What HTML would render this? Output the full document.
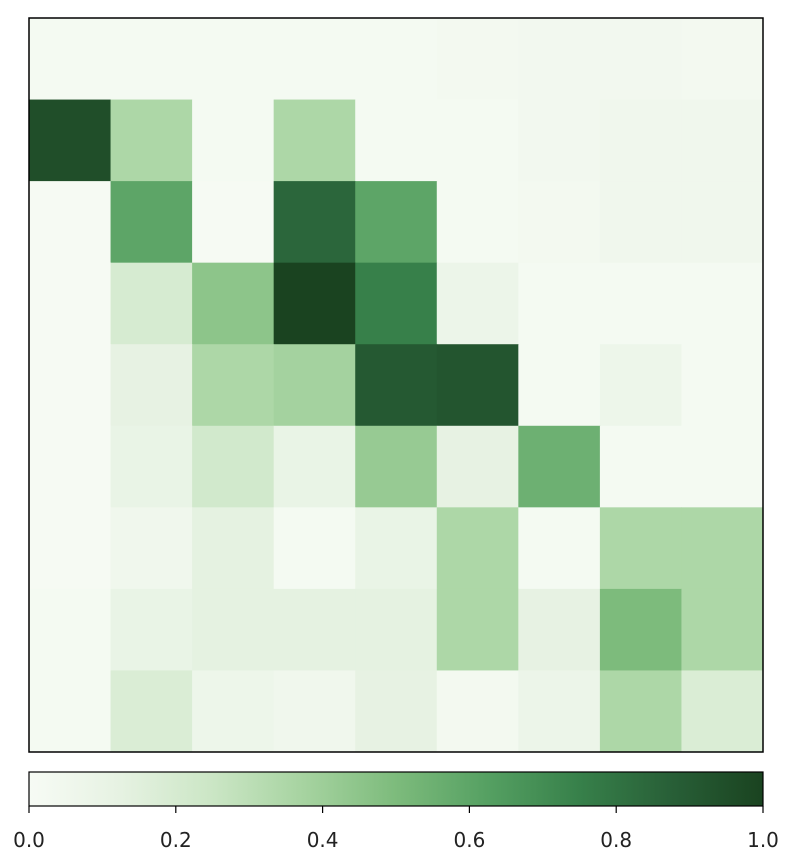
<!DOCTYPE html>
<html><head><meta charset="utf-8"><style>
body{margin:0;background:#fff;}
svg{display:block;font-family:"DejaVu Sans","Liberation Sans",sans-serif;}
</style></head><body>
<svg id="chart" width="800" height="868" xmlns="http://www.w3.org/2000/svg">
<defs><linearGradient id="cbgrad" x1="0" x2="1" y1="0" y2="0"></linearGradient></defs>
<g id="cells"></g>
<rect x="29" y="18" width="734" height="734" fill="none" stroke="#000" stroke-width="1.5"/>
<rect x="29" y="772" width="734" height="34" fill="url(#cbgrad)" stroke="#000" stroke-width="1.2"/>
<g id="cbticks"></g>
</svg>
<script>
const values = [
 [0.02,0.02,0.02,0.02,0.02,0.03,0.04,0.04,0.03],
 [0.95,0.35,0.02,0.35,0.02,0.02,0.04,0.05,0.05],
 [0.01,0.60,0.01,0.85,0.60,0.02,0.03,0.05,0.05],
 [0.01,0.20,0.45,1.00,0.75,0.08,0.02,0.02,0.02],
 [0.01,0.12,0.35,0.38,0.90,0.92,0.02,0.07,0.02],
 [0.01,0.10,0.22,0.10,0.42,0.12,0.55,0.02,0.02],
 [0.01,0.05,0.13,0.02,0.10,0.35,0.02,0.35,0.35],
 [0.02,0.10,0.13,0.13,0.13,0.35,0.12,0.50,0.35],
 [0.02,0.18,0.07,0.05,0.12,0.03,0.08,0.35,0.18]
];
const tickValues = [0.0,0.2,0.4,0.6,0.8,1.0];
const tickLabels = ["0.0","0.2","0.4","0.6","0.8","1.0"];
const stops=["#f7fbf5","#e6f2e2","#cbe6c5","#a6d3a0","#7dbb7c","#55a062","#37804a","#285f37","#1a4320"];
function hex(h){return [1,3,5].map(i=>parseInt(h.substr(i,2),16));}
function cmap(v){v=Math.max(0,Math.min(1,v));const t=v*(stops.length-1);const i=Math.min(Math.floor(t),stops.length-2);const f=t-i;const a=hex(stops[i]),b=hex(stops[i+1]);return `rgb(${a.map((c,k)=>Math.round(c+(b[k]-c)*f)).join(',')})`;}
const NS="http://www.w3.org/2000/svg";
const X0=29,Y0=18,W=734,H=734;
const n=values.length,m=values[0].length;
const xS=j=>X0+j*W/m, yS=i=>Y0+i*H/n;
const g=document.getElementById('cells');
values.forEach((row,i)=>row.forEach((v,j)=>{
 const r=document.createElementNS(NS,'rect');
 r.setAttribute('x',xS(j));r.setAttribute('y',yS(i));
 r.setAttribute('width',W/m+0.5);r.setAttribute('height',H/n+0.5);
 r.setAttribute('fill',cmap(v));
 
 
 g.appendChild(r);
}));
const grad=document.getElementById('cbgrad');
stops.forEach((s,k)=>{const st=document.createElementNS(NS,'stop');st.setAttribute('offset',k/(stops.length-1));st.setAttribute('stop-color',s);grad.appendChild(st);});
const cb=document.getElementById('cbticks');
const cx=v=>29+v*734;
tickValues.forEach((v,k)=>{
 const l=document.createElementNS(NS,'line');
 l.setAttribute('x1',cx(v));l.setAttribute('x2',cx(v));l.setAttribute('y1',806);l.setAttribute('y2',813);
 l.setAttribute('stroke','#000');l.setAttribute('stroke-width','1.2');
 
 
 cb.appendChild(l);
 const t=document.createElementNS(NS,'text');
 t.setAttribute('x',cx(v));t.setAttribute('y',847);t.setAttribute('text-anchor','middle');
 t.setAttribute('font-size','20');t.setAttribute('fill','#222');t.textContent=tickLabels[k];
 
 
 cb.appendChild(t);
});
</script>
</body></html>
